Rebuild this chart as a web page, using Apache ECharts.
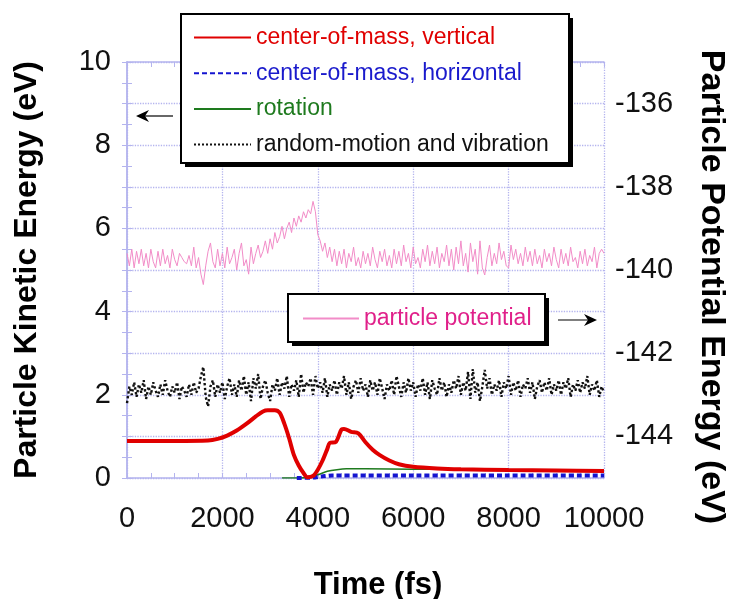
<!DOCTYPE html>
<html>
<head>
<meta charset="utf-8">
<script src="https://cdn.jsdelivr.net/npm/echarts@6/dist/echarts.min.js"></script>
<style>
  html, body { margin: 0; padding: 0; background: #fff; }
  #chart { width: 747px; height: 599px; }
</style>
</head>
<body>
<div id="chart"></div>
<script>
// sampled every 50 fs, from 0 to 10000 fs
var sampleStep = 50;

// particle potential energy (eV), right axis
var potentialValues = [
  -139.6, -139.9, -139.5, -139.95, -139.55, -139.85, -139.5, -139.9, -139.6, -139.95,
  -139.5, -139.8, -139.95, -139.55, -139.9, -139.5, -139.85, -139.65, -139.95, -139.5,
  -139.75, -139.9, -139.6, -139.7, -139.8, -139.85, -139.65, -139.9, -139.45, -139.95,
  -139.7, -140.1, -140.35, -139.9, -139.55, -139.35, -139.8, -139.95, -139.5, -139.9,
  -139.6, -139.95, -139.45, -139.85, -139.7, -139.5, -140.0, -139.6, -139.35, -139.9,
  -139.75, -140.1, -139.45, -139.85, -139.6, -139.4, -139.7, -139.55, -139.3, -139.6,
  -139.25, -139.5, -139.1, -139.35, -139.2, -138.95, -139.25, -139.0, -138.85, -139.1,
  -138.75, -138.95, -138.7, -138.85, -138.6, -138.75, -138.55, -138.65, -138.35, -138.6,
  -139.15, -139.3, -139.55, -139.35, -139.7, -139.45, -139.8, -139.5, -139.9, -139.55,
  -139.85, -139.5, -139.95, -139.6, -139.8, -139.45, -139.9, -139.7, -139.95, -139.55,
  -139.85, -139.6, -139.9, -139.45, -139.75, -139.95, -139.55, -139.8, -139.5, -139.9,
  -139.65, -139.95, -139.5, -139.85, -139.55, -139.9, -139.4, -139.8, -139.6, -139.95,
  -139.45, -139.85, -139.7, -139.95, -139.5, -139.8, -139.4, -139.9, -139.55, -139.85,
  -139.45, -139.95, -139.6, -139.8, -139.4, -139.9, -139.5, -140.0, -139.45, -139.85,
  -139.3, -139.9, -139.6, -140.05, -139.35, -139.8, -139.5, -140.1, -139.3, -139.95,
  -140.12, -139.7, -139.4, -139.9, -139.6, -139.85, -139.35, -139.75, -139.55, -139.9,
  -139.95, -139.4, -139.75, -139.5, -139.85, -139.6, -139.9, -139.45, -139.8, -139.55,
  -139.9, -139.5, -139.85, -139.65, -139.95, -139.5, -139.8, -139.6, -139.9, -139.45,
  -139.75, -139.95, -139.5, -139.85, -139.6, -139.9, -139.45, -139.8, -139.7, -139.95,
  -139.55, -139.85, -139.5, -139.9, -139.65, -139.8, -139.45, -139.95, -139.6, -139.5,
  -139.6
];

// random-motion and vibration (eV)
var randomValues = [
  1.8, 2.2, 2.0, 2.3, 1.95, 2.25, 2.05, 2.35, 1.9, 2.2,
  2.0, 2.3, 2.1, 1.95, 2.25, 2.0, 2.35, 2.1, 1.95, 2.2,
  2.05, 2.3, 1.9, 2.2, 2.1, 1.95, 2.25, 2.0, 2.3, 2.05,
  2.15, 2.45, 2.67, 1.95, 1.72, 2.2, 2.35, 1.95, 2.25, 2.05,
  2.3, 1.9, 2.2, 2.4, 2.0, 2.25, 1.95, 2.35, 2.1, 2.45,
  2.0, 2.3, 1.85, 2.4, 2.15, 2.5, 1.9, 2.2, 2.35, 2.05,
  1.85, 2.25, 2.1, 2.4, 2.0, 2.3, 2.15, 2.45, 1.95, 2.25,
  2.1, 2.35, 1.95, 2.5, 2.05, 2.3, 2.2, 2.4, 2.0, 2.45,
  2.15, 2.3, 2.05, 2.4, 1.95, 2.25, 2.1, 2.35, 2.0, 2.3,
  2.15, 2.45, 2.0, 2.3, 1.9, 2.2, 2.35, 2.05, 2.4, 2.1,
  2.25, 1.95, 2.35, 2.1, 2.3, 2.0, 2.4, 2.15, 1.9, 2.25,
  2.1, 2.35, 2.0, 2.45, 2.2, 1.95, 2.3, 2.05, 2.4, 2.1,
  2.3, 1.95, 2.25, 2.1, 2.4, 2.0, 2.3, 1.9, 2.35, 2.15,
  2.0, 2.4, 2.1, 2.3, 1.95, 2.25, 2.05, 2.35, 2.15, 2.45,
  2.0, 2.3, 2.1, 2.55, 1.9, 2.62, 2.05, 2.3, 1.85, 2.2,
  2.6, 2.15, 2.4, 2.0, 2.25, 2.1, 2.35, 1.95, 2.3, 2.15,
  2.45, 2.0, 2.3, 2.1, 2.35, 1.95, 2.25, 2.15, 2.4, 2.05,
  2.3, 1.9, 2.2, 2.35, 2.05, 2.3, 2.1, 2.4, 2.0, 2.25,
  2.1, 2.35, 2.0, 2.3, 2.15, 2.4, 1.95, 2.25, 2.1, 2.35,
  2.05, 2.3, 2.15, 2.45, 2.0, 2.25, 2.1, 2.35, 1.95, 2.2,
  2.05
];

// center-of-mass, vertical
var verticalTime = [0, 1000, 1700, 1900, 2100, 2300, 2500, 2700, 2850, 2950, 3100, 3200, 3300, 3400, 3500, 3600, 3700, 3780,
  3900, 4000, 4100, 4200, 4250, 4380, 4500, 4550, 4700, 4850, 5000, 5150, 5300, 5500, 5700, 6000, 6500, 7000, 8000, 9000, 10000];
var verticalValues = [0.89, 0.89, 0.9, 0.94, 1.02, 1.14, 1.3, 1.48, 1.6, 1.63, 1.63, 1.57, 1.3, 0.95, 0.55, 0.3, 0.12, 0.02,
  0.05, 0.2, 0.42, 0.7, 0.84, 0.87, 1.17, 1.18, 1.11, 1.07, 0.86, 0.68, 0.55, 0.42, 0.33, 0.27, 0.23, 0.21, 0.19, 0.18, 0.17];

// rotation
var rotationTime = [3250, 3600, 3800, 4000, 4200, 4400, 4600, 5000, 6000, 7000, 8000, 10000];
var rotationValues = [0, 0, 0.02, 0.08, 0.16, 0.2, 0.22, 0.22, 0.21, 0.21, 0.2, 0.2];

// center-of-mass, horizontal
var horizontalTime = [3560, 3900, 4100, 4300, 6000, 8000, 10000];
var horizontalValues = [0, 0.01, 0.04, 0.06, 0.06, 0.06, 0.06];

var leftTickLabels = [0, 2, 4, 6, 8, 10];
var rightTickLabels = [-144, -142, -140, -138, -136];

function pairs(times, values) {
  return times.map(function (t, i) { return [t, values[i]]; });
}
function sampled(values) {
  return values.map(function (v, i) { return [i * sampleStep, v]; });
}

var font = 'Arial, "Liberation Sans", Helvetica, sans-serif';
var frame = '#b4b4ee';

// boxed legend frame with a solid drop shadow
function legendBox(x, y, w, h) {
  return [
    { type: 'rect', shape: { x: x + 4, y: y + 4, width: w, height: h }, style: { fill: '#000' }, z: 15 },
    { type: 'rect', shape: { x: x, y: y, width: w, height: h }, style: { fill: '#fff', stroke: '#000', lineWidth: 2 }, z: 16 }
  ];
}

var myChart = echarts.init(document.getElementById('chart'));
var option = {
  backgroundColor: '#fff',
  animation: false,
  textStyle: { fontFamily: font },
  grid: { left: 127, right: 143, top: 62, bottom: 121, outerBoundsMode: 'none', containLabel: false },
  legend: [{
    orient: 'vertical',
    left: 181, top: 14,
    padding: [12, 13, 10, 12],
    itemWidth: 57, itemHeight: 14, itemGap: 12.7,
    itemStyle: { opacity: 0 },
    selectedMode: false,
    z: 20,
    textStyle: { fontSize: 23, fontFamily: font },
    data: [
      { name: 'center-of-mass, vertical', textStyle: { color: '#e00000' } },
      { name: 'center-of-mass, horizontal', textStyle: { color: '#1a1acc' } },
      { name: 'rotation', textStyle: { color: '#1e7a1e' } },
      { name: 'random-motion and vibration', textStyle: { color: '#111' } }
    ]
  }, {
    left: 288, top: 294,
    padding: [13, 10, 11, 14],
    itemWidth: 56, itemHeight: 14,
    itemStyle: { opacity: 0 },
    selectedMode: false,
    z: 20,
    textStyle: { fontSize: 23, fontFamily: font },
    data: [{ name: 'particle potential', textStyle: { color: '#e0208a' } }]
  }],
  xAxis: [{
    type: 'value',
    position: 'bottom',
    min: 0, max: 10000, interval: 2000,
    name: 'Time (fs)',
    nameLocation: 'middle',
    nameGap: 92,
    nameTextStyle: { fontSize: 31, fontWeight: 'bold', color: '#000', padding: [0, 0, 0, 25] },
    axisLine: { lineStyle: { color: frame, width: 1.5 } },
    axisTick: { inside: true, length: 5, lineStyle: { color: frame } },
    minorTick: { show: true, splitNumber: 4, length: 5, lineStyle: { color: frame } },
    axisLabel: { fontSize: 29, color: '#111', margin: 26, formatter: function (v) { return String(v); } },
    splitLine: { show: true, lineStyle: { color: frame, type: 'dotted', width: 1.3 } }
  }, {
    type: 'value',
    position: 'top',
    min: 0, max: 10000, interval: 2000,
    axisLine: { show: true, lineStyle: { color: frame, width: 1.5 } },
    axisTick: { inside: true, length: 5, lineStyle: { color: frame } },
    minorTick: { show: true, splitNumber: 4, length: 5, lineStyle: { color: frame } },
    axisLabel: { show: false },
    splitLine: { show: false }
  }],
  yAxis: [{
    type: 'value',
    position: 'left',
    min: 0, max: 10, interval: 1,
    name: 'Particle Kinetic Energy (eV)',
    nameLocation: 'middle',
    nameRotate: 90,
    nameGap: 84,
    nameTextStyle: { fontSize: 32, fontWeight: 'bold', color: '#000' },
    axisLine: { show: true, lineStyle: { color: frame, width: 1.5 } },
    axisTick: { inside: true, length: 5, lineStyle: { color: frame } },
    minorTick: { show: true, splitNumber: 2, length: 5, lineStyle: { color: frame } },
    axisLabel: {
      fontSize: 29, color: '#111', margin: 16,
      formatter: function (v) { return leftTickLabels.indexOf(v) >= 0 ? String(v) : ''; }
    },
    splitLine: { show: true, lineStyle: { color: frame, type: 'dotted', width: 1.3 } }
  }, {
    type: 'value',
    position: 'right',
    min: -145, max: -135, interval: 1,
    name: 'Particle Potential Energy (eV)',
    nameLocation: 'middle',
    nameRotate: -90,
    nameGap: 90,
    nameTextStyle: { fontSize: 34, fontWeight: 'bold', color: '#000', padding: [0, 0, 0, 34] },
    axisLine: { show: true, lineStyle: { color: frame, width: 1.5 } },
    axisTick: { inside: true, length: 5, lineStyle: { color: frame } },
    minorTick: { show: true, splitNumber: 2, length: 5, lineStyle: { color: frame } },
    axisLabel: {
      fontSize: 29, color: '#111', margin: 11,
      formatter: function (v) { return rightTickLabels.indexOf(v) >= 0 ? String(v) : ''; }
    },
    splitLine: { show: false }
  }],
  series: [{
    name: 'particle potential',
    type: 'line',
    yAxisIndex: 1,
    symbol: 'none',
    data: sampled(potentialValues),
    lineStyle: { color: '#f28cc8', width: 1 },
    itemStyle: { color: '#f28cc8' },
    z: 2
  }, {
    name: 'random-motion and vibration',
    type: 'line',
    symbol: 'none',
    data: sampled(randomValues),
    lineStyle: { color: '#111', width: 2.4, type: 'dotted' },
    itemStyle: { color: '#111' },
    z: 3
  }, {
    name: 'rotation',
    type: 'line',
    symbol: 'none',
    smooth: 0.3,
    data: pairs(rotationTime, rotationValues),
    lineStyle: { color: '#1e7a1e', width: 1.5 },
    itemStyle: { color: '#1e7a1e' },
    z: 4
  }, {
    name: 'center-of-mass, horizontal',
    type: 'line',
    symbol: 'none',
    smooth: 0.3,
    data: pairs(horizontalTime, horizontalValues),
    lineStyle: { color: '#1414d0', width: 4, type: [5, 3] },
    itemStyle: { color: '#1414d0' },
    z: 5
  }, {
    name: 'center-of-mass, vertical',
    type: 'line',
    symbol: 'none',
    smooth: 0.3,
    data: pairs(verticalTime, verticalValues),
    lineStyle: { color: '#e00000', width: 4 },
    itemStyle: { color: '#e00000' },
    z: 6
  }],
  graphic: legendBox(181, 14, 388, 149).concat(legendBox(288, 294, 257, 48)).concat([
    { type: 'line', shape: { x1: 173, y1: 116, x2: 142, y2: 116 }, style: { stroke: '#000', lineWidth: 1.2 }, z: 100 },
    { type: 'polygon', shape: { points: [[136, 116], [149, 110], [145, 116], [149, 122]] }, style: { fill: '#000' }, z: 100 },
    { type: 'line', shape: { x1: 558, y1: 320, x2: 591, y2: 320 }, style: { stroke: '#000', lineWidth: 1.2 }, z: 100 },
    { type: 'polygon', shape: { points: [[597, 320], [584, 314], [588, 320], [584, 326]] }, style: { fill: '#000' }, z: 100 }
  ])
};
myChart.setOption(option);
</script>
</body>
</html>
